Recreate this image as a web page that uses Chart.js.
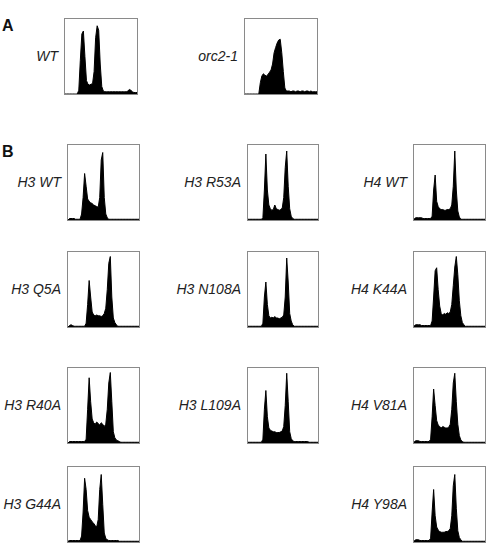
<!DOCTYPE html>
<html>
<head>
<meta charset="utf-8">
<script src="https://cdn.jsdelivr.net/npm/chart.js@4.4.0/dist/chart.umd.min.js"></script>
<style>
  body { margin: 0; background: #fff; width: 492px; height: 552px; position: relative; overflow: hidden; font-family: "Liberation Sans", Arial, sans-serif; }
  .panel { position: absolute; border: 1px solid #8a8a8a; box-sizing: border-box; }
  .panel canvas { display: block; }
  .lbl { position: absolute; font-style: italic; font-size: 14px; color: #222; text-align: right; white-space: nowrap; }
  .sec { position: absolute; font-weight: bold; font-size: 16px; color: #111; }
</style>
</head>
<body>
<div class="sec" style="left:2px;top:17px;">A</div>
<div class="sec" style="left:2px;top:143px;">B</div>
<script>
// DNA content bins (x categories, shared by all panels)
const bins = [0,1,2,3,4,5,6,7,8,9,10,11,12,13,14,15,16,17,18,19,20,21,22,23,
              24,25,26,27,28,29,30,31,32,33,34,35,36,37,38,39,40,41,42,43,44,45,46,47];

// cell counts per bin (relative, 0-100)
const wtA    = [0,0,0,0,0,0,0,0,0, 5,45,80,84,50,18,13,12,13,14,30,75,91,85,40,10,4,
                3,3,3,3,3,3,3,3,3,3,3,3,3,3,3, 4,6,5,3,2,2,2];
const orc21  = [0,0,0,0,0,0,0,0,0,0, 15,24,27,25,24,26,29,32,40,55,62,68,72,73,55,30,8,4,
                4,4,3,4,4,3,4,4,3,4,4,3,4,4,3,4,3,3,3,3];
const h3WT   = [0,2,2,2,2,1,1,1,1, 8,30,62,45,28,25,23,22,20,19,18,17,30,80,90,30,8,3,
                1,1,1,1,1,1,1,1,1,1,1,1,1,1,1,1,1,1,1,1,1];
const h3R53A = [1,1,1,1,1,1,1,1,1,1, 3,40,88,40,20,15,13,14,20,15,14,13,14,16,30,70,92,45,15,5,2,
                1,1,1,1,1,1,1,1,1,1,1,1,1,1,1,1,1];
const h4WT   = [1,3,3,3,3,3,2,2,2,2,2,2, 5,40,60,25,18,15,14,14,13,13,14,14,15,20,45,92,40,12,4,
                1,1,1,1,1,1,1,1,1,1,1,1,1,1,1,1,1];
const h3Q5A  = [0,2,3,2,1,1,1,1,1,1,1,1, 5,30,62,40,20,16,15,16,15,15,14,15,18,25,50,85,94,40,12,6,3,
                1,1,1,1,1,1,1,1,1,1,1,1,1,1,1];
const h3N108A= [1,1,1,1,1,1,1,1,1,1, 5,40,60,30,15,12,13,12,14,12,12,11,12,13,16,40,92,60,18,8,3,
                1,1,1,1,1,1,1,1,1,1,1,1,1,1,1,1,1];
const h4K44A = [1,3,3,3,3,2,2,2,2,2,2,2, 8,40,75,79,50,28,18,16,18,17,19,18,20,30,55,80,94,70,35,15,6,3,
                1,1,1,1,1,1,1,1,1,1,1,1,1,1];
const h3R40A = [0,2,2,2,2,2,2,2,2,2,2,2, 5,45,87,55,32,27,25,28,26,24,27,25,22,25,45,80,94,55,15,7,4,3,2,
                1,1,1,1,1,1,1,1,1,1,1,1,1];
const h3L109A= [1,1,1,1,1,1,1,1,1,1, 5,45,70,35,20,17,16,15,15,14,14,14,15,16,22,50,93,55,15,6,3,
                2,2,2,2,2,2,2,2,2,2,1,1,1,1,1,1,1];
const h4V81A = [1,3,3,3,2,2,2,2,2,2,2, 5,35,72,50,30,24,22,20,22,21,20,20,21,25,45,80,93,55,25,10,4,2,
                1,1,1,1,1,1,1,1,1,1,1,1,1,1,1];
const h3G44A = [1,2,2,2,2,2,2,2,2, 8,40,85,70,42,33,30,27,25,22,20,30,70,90,50,12,5,3,
                2,2,2,2,2,2,2,1,1,1,1,1,1,1,1,1,1,1,1,1,1,1];
const h4Y98A = [1,3,3,3,2,2,2,2,2,2,2, 5,40,70,35,20,16,14,13,13,13,14,14,15,18,35,75,90,45,15,6,3,
                1,1,1,1,1,1,1,1,1,1,1,1,1,1,1,1];

// layout: label, data, box left/top/width/height
const panels = [
  ['WT', wtA, 64, 18, 74, 77],
  ['orc2-1', orc21, 244, 18, 74, 77],
  ['H3 WT', h3WT, 67, 144, 73, 77],
  ['H3 R53A', h3R53A, 247, 144, 72, 77],
  ['H4 WT', h4WT, 413, 144, 73, 77],
  ['H3 Q5A', h3Q5A, 67, 251, 73, 77],
  ['H3 N108A', h3N108A, 247, 251, 72, 77],
  ['H4 K44A', h4K44A, 413, 251, 73, 77],
  ['H3 R40A', h3R40A, 67, 367, 73, 77],
  ['H3 L109A', h3L109A, 247, 367, 72, 77],
  ['H4 V81A', h4V81A, 413, 367, 73, 77],
  ['H3 G44A', h3G44A, 67, 466, 73, 77],
  ['H4 Y98A', h4Y98A, 413, 466, 73, 77]
];

panels.forEach(function(p) {
  const [label, values, x, y, w, h] = p;
  const box = document.createElement('div');
  box.className = 'panel';
  box.style.left = x + 'px'; box.style.top = y + 'px';
  box.style.width = w + 'px'; box.style.height = h + 'px';
  const cv = document.createElement('canvas');
  cv.width = w - 2; cv.height = h - 2;
  box.appendChild(cv);
  document.body.appendChild(box);

  const lbl = document.createElement('div');
  lbl.className = 'lbl';
  lbl.textContent = label;
  lbl.style.right = (492 - x + 6) + 'px';
  lbl.style.top = (y + h / 2 - 9) + 'px';
  document.body.appendChild(lbl);

  new Chart(cv, {
    type: 'line',
    data: {
      labels: bins,
      datasets: [{ data: values, fill: 'origin', backgroundColor: '#000', borderColor: '#000',
                   borderWidth: 1, pointRadius: 0, tension: 0 }]
    },
    options: {
      responsive: false, animation: false,
      layout: { padding: 0 },
      plugins: { legend: { display: false }, tooltip: { enabled: false } },
      scales: {
        x: { display: false, offset: false },
        y: { display: false, min: 0, max: 100 }
      }
    }
  });
});
</script>
</body>
</html>
